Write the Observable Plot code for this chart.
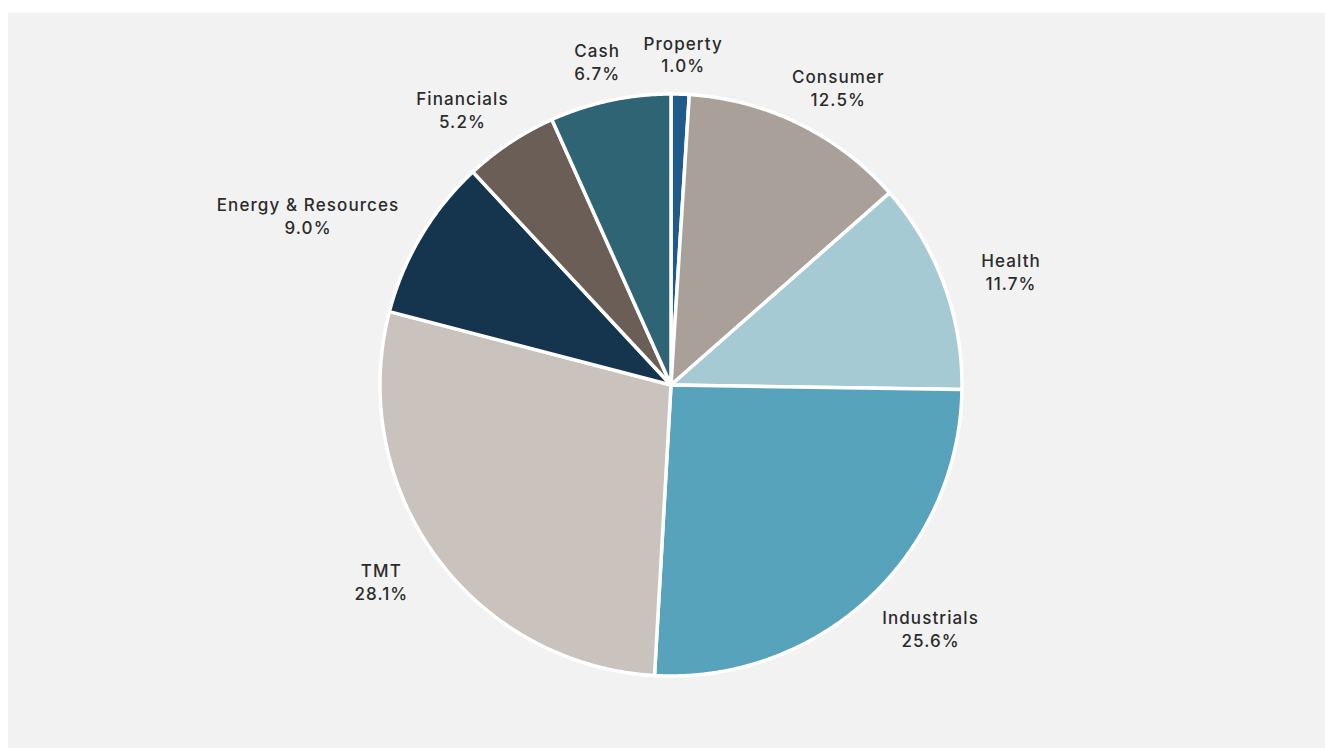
<!DOCTYPE html>
<html>
<head>
<meta charset="utf-8">
<script src="https://cdn.jsdelivr.net/npm/d3@7"></script>
<script src="https://cdn.jsdelivr.net/npm/@observablehq/plot@0.6"></script>
<style>
  html, body { margin: 0; padding: 0; background: #ffffff; }
  #panel { position: absolute; left: 8px; top: 13px; width: 1317px; height: 735px; background: #f2f2f2; overflow: hidden; }
  #panel svg { display: block; }
</style>
</head>
<body>
<div id="panel"></div>
<script>
// ---- data ----
const sectors = ["Property", "Consumer", "Health", "Industrials", "TMT", "Energy & Resources", "Financials", "Cash"];
const shares = [1.0, 12.5, 11.7, 25.6, 28.1, 9.0, 5.2, 6.7];
const colors = ["#1f5a8a", "#a9a09a", "#a6cad4", "#56a3bb", "#c9c2bd", "#15354f", "#6a5e57", "#2f6475"];

// ---- layout ----
const W = 1317, H = 735;
const cx = 663, cy = 372, R = 291;
const fontSize = 17;
const letterSpacing = 1.1;
const fontFamily = "Inter, 'Open Sans', sans-serif";

const arcs = d3.pie().sort(null).value(d => d)(shares);

// wedge outline points in unit-circle coordinates
const rows = [];
arcs.forEach((a, i) => {
  const n = Math.max(2, Math.ceil((a.endAngle - a.startAngle) / (Math.PI / 720)));
  for (let k = 0; k <= n; k++) {
    const t = a.startAngle + (a.endAngle - a.startAngle) * k / n;
    rows.push({sector: sectors[i], x: Math.sin(t), y: Math.cos(t)});
  }
});

// label positions along mid-angle, pushed outward by half the label width
const ctx = document.createElement("canvas").getContext("2d");
ctx.font = `500 ${fontSize}px ${fontFamily}`;
const measure = s => ctx.measureText(s).width + letterSpacing * s.length;
const labelR = 332 / R;
const labels = arcs.map((a, i) => {
  const m = (a.startAngle + a.endAngle) / 2;
  const pct = shares[i].toFixed(1) + "%";
  const w = Math.max(measure(sectors[i]), measure(pct));
  const push = (w / 2) * Math.sin(m) / R;
  return {text: sectors[i] + "\n" + pct, x: labelR * Math.sin(m) + push, y: labelR * Math.cos(m)};
});

const chart = Plot.plot({
  width: W,
  height: H,
  margin: 0,
  x: {domain: [-cx / R, (W - cx) / R], axis: null},
  y: {domain: [-(H - cy) / R, cy / R], axis: null},
  color: {domain: sectors, range: colors},
  style: {background: "transparent", fontFamily: fontFamily, letterSpacing: letterSpacing + "px"},
  marks: [
    Plot.area(rows, {x1: "x", y1: "y", x2: 0, y2: 0, z: "sector", fill: "sector", stroke: "#ffffff", strokeWidth: 3.5, strokeLinejoin: "round"}),
    Plot.text(labels, {x: "x", y: "y", text: "text", textAnchor: "middle", lineAnchor: "middle", lineHeight: 1.35, fontSize: fontSize, fill: "#2b2b2b", fontWeight: 500})
  ]
});
document.getElementById("panel").appendChild(chart);
</script>
</body>
</html>
